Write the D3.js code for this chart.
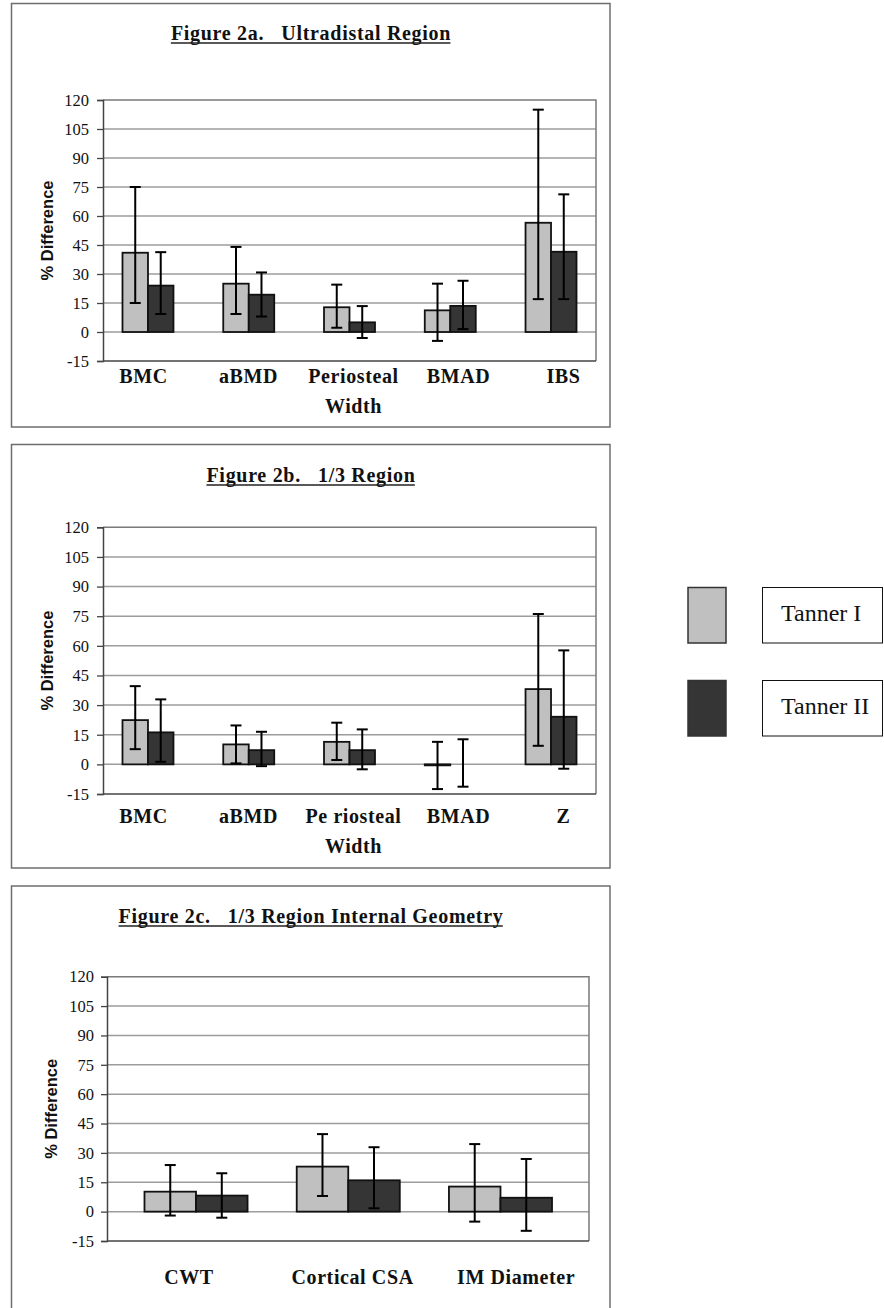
<!DOCTYPE html>
<html>
<head>
<meta charset="utf-8">
<script src="https://cdn.jsdelivr.net/npm/d3@7"></script>
<style>
  body { margin: 0; background: #fff; }
  svg { display: block; }
</style>
</head>
<body>
<script>
//series and axis data
var seriesNames = ['Tanner I', 'Tanner II'];
var yTicks = [-15, 0, 15, 30, 45, 60, 75, 90, 105, 120];

//figure 2a: ultradistal region
var catsA = ['BMC', 'aBMD', 'Periosteal|Width', 'BMAD', 'IBS'];
var aTanner1 = [41, 25, 12.8, 11.2, 56.5];
var aTanner1Lo = [15, 9.3, 2.2, -4.6, 17];
var aTanner1Hi = [75, 44, 24.5, 25, 115];
var aTanner2 = [24, 19.3, 5, 13.5, 41.5];
var aTanner2Lo = [9.3, 8, -3.1, 1.5, 17];
var aTanner2Hi = [41.3, 30.8, 13.4, 26.5, 71.2];

//figure 2b: 1/3 region
var catsB = ['BMC', 'aBMD', 'Pe riosteal|Width', 'BMAD', 'Z'];
var bTanner1 = [22.4, 10.1, 11.4, -0.5, 38.1];
var bTanner1Lo = [7.7, 0.5, 2.2, -12.5, 9.4];
var bTanner1Hi = [39.6, 19.7, 21.1, 11.4, 76.1];
var bTanner2 = [16.2, 7.2, 7.2, 0, 24.1];
var bTanner2Lo = [1.3, -0.9, -2.5, -11.3, -2.2];
var bTanner2Hi = [32.9, 16.5, 17.7, 12.7, 57.7];

//figure 2c: 1/3 region internal geometry
var catsC = ['CWT', 'Cortical CSA', 'IM Diameter'];
var cTanner1 = [10.2, 23, 12.8];
var cTanner1Lo = [-2, 8, -5.1];
var cTanner1Hi = [23.8, 39.6, 34.5];
var cTanner2 = [8.2, 16, 7.1];
var cTanner2Lo = [-3.1, 1.7, -9.8];
var cTanner2Hi = [19.6, 32.9, 26.9];

var colors = ['#c0c0c0', '#353535'];

var width = 884, height = 1308;

var svg = d3.select('body')
    .append('svg')
    .attr('width', width)
    .attr('height', height);

//panel layouts
var panels = [
    {
        title: 'Figure 2a.   Ultradistal Region',
        cats: catsA,
        values: [aTanner1, aTanner2], lo: [aTanner1Lo, aTanner2Lo], hi: [aTanner1Hi, aTanner2Hi],
        frame: [11.5, 3.5, 610, 427],
        left: 103, right: 596, top: 100, bottom: 361,
        titleY: 40, labelY: 383, tickX: 89, yLabelX: 47,
        barRange: [97.6, 601.4], barPad: 0.494, labelRange: [91, 616]
    },
    {
        title: 'Figure 2b.   1/3 Region',
        cats: catsB,
        values: [bTanner1, bTanner2], lo: [bTanner1Lo, bTanner2Lo], hi: [bTanner1Hi, bTanner2Hi],
        frame: [11.5, 444.5, 610, 868],
        left: 103, right: 596, top: 527.3, bottom: 794,
        titleY: 482, labelY: 823, tickX: 89, yLabelX: 47,
        barRange: [97.6, 601.4], barPad: 0.494, labelRange: [91, 616]
    },
    {
        title: 'Figure 2c.   1/3 Region Internal Geometry',
        cats: catsC,
        values: [cTanner1, cTanner2], lo: [cTanner1Lo, cTanner2Lo], hi: [cTanner1Hi, cTanner2Hi],
        frame: [11.5, 886, 610, 1330],
        left: 107, right: 589, top: 976.7, bottom: 1241,
        titleY: 923, labelY: 1284, tickX: 94, yLabelX: 51,
        barRange: [119.9, 576.6], barPad: 0.323, labelRange: [107.2, 598]
    }
];

panels.forEach(drawPanel);

function drawPanel(p) {
    var g = svg.append('g');

    //outer frame
    g.append('rect')
        .attr('x', p.frame[0]).attr('y', p.frame[1])
        .attr('width', p.frame[2] - p.frame[0])
        .attr('height', p.frame[3] - p.frame[1])
        .attr('fill', 'none')
        .attr('stroke', '#6e6e6e')
        .attr('stroke-width', 1.5);

    //title with underline
    var title = g.append('text')
        .attr('x', 311).attr('y', p.titleY)
        .attr('text-anchor', 'middle')
        .style('white-space', 'pre')
        .style('font-family', '"Liberation Serif", serif')
        .style('font-weight', 'bold')
        .style('font-size', '20px')
        .style('letter-spacing', '0.7px')
        .attr('fill', '#111')
        .text(p.title);
    var tb = title.node().getBBox();
    g.append('line')
        .attr('x1', tb.x).attr('x2', tb.x + tb.width - 0.7)
        .attr('y1', p.titleY + 3).attr('y2', p.titleY + 3)
        .attr('stroke', '#222').attr('stroke-width', 1.3);

    var y = d3.scaleLinear().domain([-15, 120]).range([p.bottom, p.top]);

    var x = d3.scaleBand().domain(p.cats).range(p.barRange)
        .paddingInner(p.barPad).paddingOuter(p.barPad / 2);
    var xs = d3.scaleBand().domain(seriesNames).range([0, x.bandwidth()]);
    var xl = d3.scaleBand().domain(p.cats).range(p.labelRange);

    //gridlines
    g.selectAll('.grid')
        .data(yTicks.filter(function(d){ return d !== -15 && d !== 120; }))
        .enter().append('line')
        .attr('x1', p.left).attr('x2', p.right)
        .attr('y1', function(d){ return y(d); })
        .attr('y2', function(d){ return y(d); })
        .attr('stroke', '#9c9c9c').attr('stroke-width', 1.5);

    //plot area top and right border
    g.append('path')
        .attr('d', 'M' + p.left + ',' + y(120) + 'H' + p.right + 'V' + y(-15))
        .attr('fill', 'none').attr('stroke', '#7a7a7a').attr('stroke-width', 1.5);

    //y axis
    var yAxis = g.append('g')
        .attr('transform', 'translate(' + p.left + ',0)')
        .call(d3.axisLeft(y).tickValues(yTicks).tickSize(6)
            .tickPadding(p.left - p.tickX - 6)
            .tickFormat(function(d){ return String(d); }));
    yAxis.select('.domain').attr('stroke', '#444').attr('stroke-width', 1.5);
    yAxis.selectAll('.tick line').attr('stroke', '#444').attr('stroke-width', 1.3);
    yAxis.selectAll('.tick text')
        .style('font-family', '"Liberation Serif", serif')
        .style('font-size', '16.5px')
        .attr('fill', '#111');

    //bottom axis line at -15
    g.append('line')
        .attr('x1', p.left).attr('x2', p.right)
        .attr('y1', y(-15)).attr('y2', y(-15))
        .attr('stroke', '#444').attr('stroke-width', 1.5);

    //y axis title
    g.append('text')
        .attr('transform', 'translate(' + p.yLabelX + ',' + ((p.top + p.bottom) / 2) + ') rotate(-90)')
        .attr('text-anchor', 'middle')
        .attr('dy', '0.35em')
        .style('font-family', '"Liberation Sans", Arial, sans-serif')
        .style('font-weight', 'bold')
        .style('font-size', '16.5px')
        .attr('fill', '#111')
        .text('% Difference');

    //bars and error bars
    var rows = [];
    p.cats.forEach(function(c, i){
        seriesNames.forEach(function(s, j){
            rows.push({cat: c, series: s, j: j, v: p.values[j][i], lo: p.lo[j][i], hi: p.hi[j][i]});
        });
    });

    g.selectAll('.bar')
        .data(rows.filter(function(d){ return d.v !== 0; }))
        .enter().append('rect')
        .attr('x', function(d){ return x(d.cat) + xs(d.series); })
        .attr('width', xs.bandwidth())
        .attr('y', function(d){ return y(Math.max(0, d.v)); })
        .attr('height', function(d){ return Math.abs(y(d.v) - y(0)); })
        .attr('fill', function(d){ return colors[d.j]; })
        .attr('stroke', '#111').attr('stroke-width', 1.8);

    var err = g.selectAll('.err')
        .data(rows)
        .enter().append('g')
        .attr('transform', function(d){ return 'translate(' + (x(d.cat) + xs(d.series) + xs.bandwidth() / 2) + ',0)'; })
        .attr('stroke', '#000').attr('stroke-width', 2);
    err.append('line')
        .attr('y1', function(d){ return y(d.lo); })
        .attr('y2', function(d){ return y(d.hi); });
    err.append('line')
        .attr('x1', -5.5).attr('x2', 5.5)
        .attr('y1', function(d){ return y(d.hi); })
        .attr('y2', function(d){ return y(d.hi); });
    err.append('line')
        .attr('x1', -5.5).attr('x2', 5.5)
        .attr('y1', function(d){ return y(d.lo); })
        .attr('y2', function(d){ return y(d.lo); });

    //category labels
    var labels = g.selectAll('.cat')
        .data(p.cats)
        .enter().append('text')
        .attr('text-anchor', 'middle')
        .style('font-family', '"Liberation Serif", serif')
        .style('font-weight', 'bold')
        .style('font-size', '20px')
        .style('letter-spacing', '0.6px')
        .attr('fill', '#111');
    labels.selectAll('tspan')
        .data(function(d){
            return d.split('|').map(function(t){ return {t: t, c: d}; });
        })
        .enter().append('tspan')
        .attr('x', function(d){ return xl(d.c) + xl.bandwidth() / 2; })
        .attr('y', function(d, i){ return p.labelY + i * 30; })
        .text(function(d){ return d.t; });
}

//legend
var legend = svg.append('g');
var legendY = [587.5, 680.5];
legend.selectAll('.swatch')
    .data(seriesNames)
    .enter().append('rect')
    .attr('x', 688).attr('width', 38)
    .attr('y', function(d, i){ return legendY[i]; })
    .attr('height', 55.5)
    .attr('fill', function(d, i){ return colors[i]; })
    .attr('stroke', '#333').attr('stroke-width', 1.5);
legend.selectAll('.box')
    .data(seriesNames)
    .enter().append('rect')
    .attr('x', 762.5).attr('width', 120)
    .attr('y', function(d, i){ return legendY[i]; })
    .attr('height', 55.5)
    .attr('fill', '#fff')
    .attr('stroke', '#111').attr('stroke-width', 1);
legend.selectAll('.lbl')
    .data(seriesNames)
    .enter().append('text')
    .attr('x', 781)
    .attr('y', function(d, i){ return legendY[i] + 33; })
    .style('font-family', '"Liberation Serif", serif')
    .style('font-size', '24px')
    .attr('fill', '#111')
    .text(function(d){ return d; });
</script>
</body>
</html>
